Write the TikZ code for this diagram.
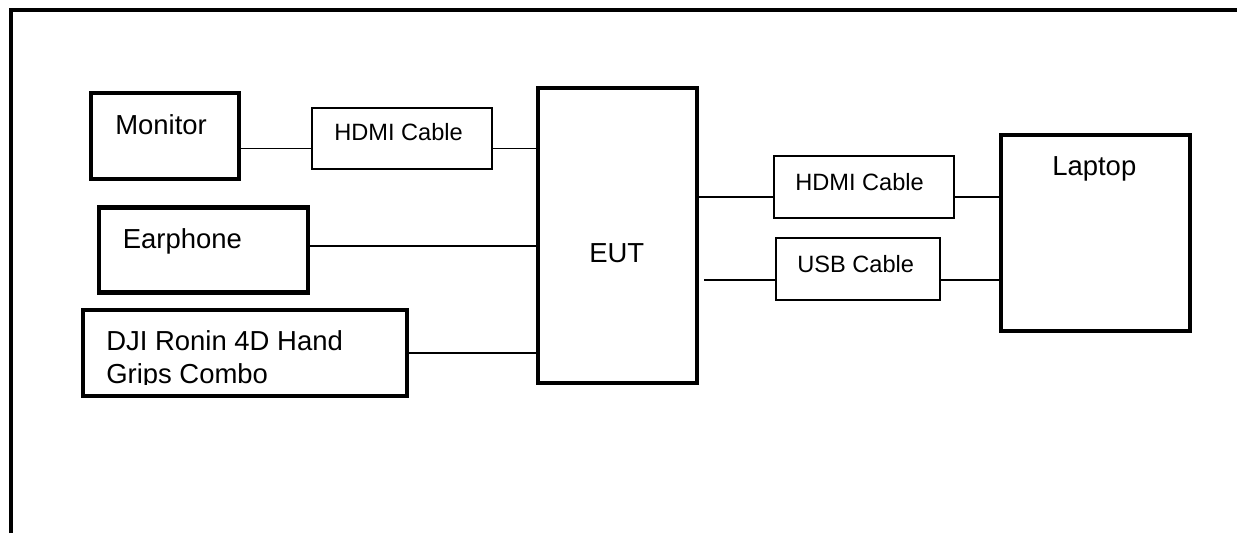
\documentclass[tikz,border=0pt]{standalone}
\usepackage{fontspec}
\setmainfont{Liberation Sans}
\usepackage{xcolor}
\usepackage{tikz}
\usetikzlibrary{positioning}
\newlength\pxu
\setlength\pxu{0.75pt}
\definecolor{boxline}{RGB}{0,0,0}
\tikzset{
 unit/.style={draw=boxline, line width=3.6pt, inner sep=0pt},
 cable/.style={draw=boxline, line width=1.2pt, inner sep=0pt},
 wire/.style={draw=boxline, line width=1pt},
 frame/.style={draw=boxline, line width=3.4pt, line join=miter},
 biglabel/.style={font=\fontsize{20.6}{24.75}\selectfont, inner sep=0pt,
          anchor=base west},
 smalllabel/.style={font=\fontsize{17.7}{21}\selectfont, inner sep=0pt,
           anchor=base west},
}

\begin{document}
\begin{tikzpicture}[x=0.75pt, y=-0.75pt]
\useasboundingbox (0,0) rectangle (1237,533);
% outer frame, cut off at the right and bottom edges
\draw[frame] (11,533) -- (11,10) -- (1237,10);

% units
\node[unit, minimum width=148\pxu, minimum height=86\pxu] (monitor) at (165,136) {};
\node[unit, minimum width=209\pxu, minimum height=85\pxu] (earphone) at (203.5,250.25) {};
\node[unit, minimum width=324\pxu, minimum height=86\pxu] (dji) at (245,353) {};
\node[unit, minimum width=159\pxu, minimum height=295\pxu] (eut) at (617.5,235.5) {};
\node[unit, minimum width=189\pxu, minimum height=196\pxu] (laptop) at (1095.5,233) {};

% cables
\node[cable, minimum width=180\pxu, minimum height=61\pxu] (hdmiL) at (402,138.5) {};
\node[cable, minimum width=180\pxu, minimum height=62\pxu] (hdmiR) at (864,187) {};
\node[cable, minimum width=164\pxu, minimum height=62\pxu] (usb) at (858,269) {};

% texts
\node[biglabel] (monitor text) at (115,134) {Monitor};
\node[biglabel] (earphone text) at (122.6,248) {Earphone};
\node[biglabel] (eut text) at (589,262) {EUT};
\node[biglabel] (laptop text) at (1052,175) {Laptop};
\node[smalllabel] (hdmiL text) at (334,140.5) {HDMI Cable};
\node[smalllabel] (hdmiR text) at (795,190.5) {HDMI Cable};
\node[smalllabel] (usb text) at (797,272) {USB Cable};
\begin{scope}
 \clip (83,310) rectangle (407,384.5);
 \node[biglabel] (dji text) at (106,350) {DJI Ronin 4D Hand};
 \node[biglabel] (dji text2) at (106,383) {Grips Combo};
\end{scope}

% wires
\draw[wire] ([yshift=-12.6\pxu]monitor.east) coordinate (w1) -- (hdmiL.west |- w1);
\draw[wire] (hdmiL.east |- w1) -- (eut.west |- w1);
\draw[wire] ([yshift=4.25\pxu]earphone.east) coordinate (w2) -- (eut.west |- w2);
\draw[wire] (dji.east) -- (eut.west |- dji.east);
\draw[wire] ([yshift=-10\pxu]hdmiR.west) coordinate (w4) -- (eut.east |- w4);
\draw[wire] (hdmiR.east |- w4) -- (laptop.west |- w4);
\draw[wire, shorten >=5\pxu] ([yshift=-11\pxu]usb.west) coordinate (w5) -- (eut.east |- w5);
\draw[wire] (usb.east |- w5) -- (laptop.west |- w5);
\end{tikzpicture}
\end{document}
